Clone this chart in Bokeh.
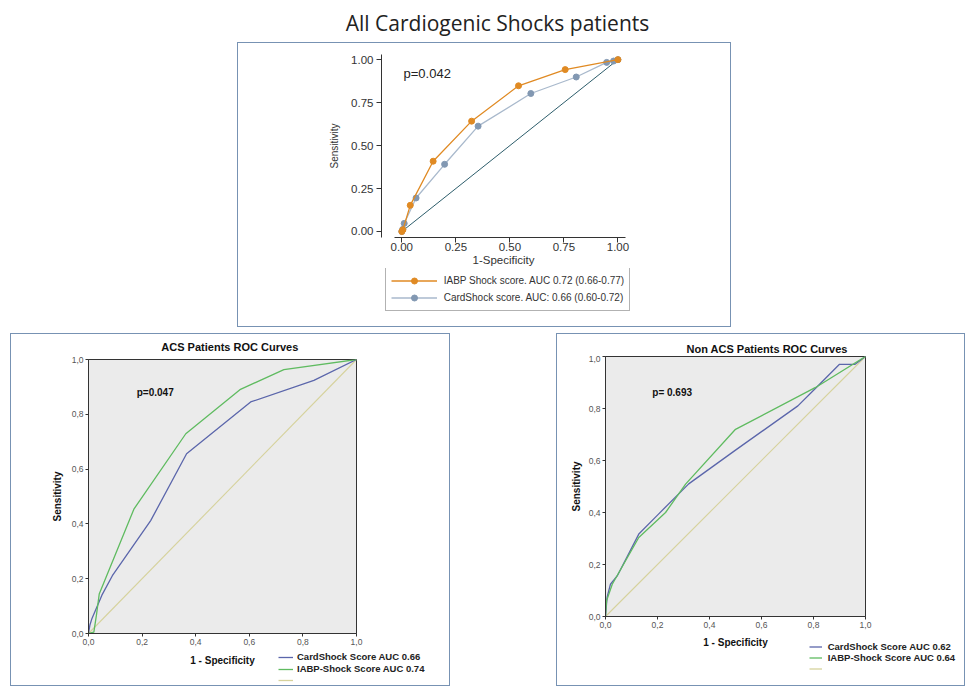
from bokeh.plotting import figure
from bokeh.models import Label, Legend, LegendItem, FixedTicker, Spacer, Range1d
from bokeh.layouts import column, row
from bokeh.embed import file_html
from bokeh.resources import INLINE

# ---------------- data ----------------
main_title = "All Cardiogenic Shocks patients"

# All cardiogenic shock patients (Stata style panel)
all_iabp_fpr = [0.0, 0.005, 0.039, 0.145, 0.323, 0.540, 0.756, 1.0]
all_iabp_tpr = [0.0, 0.010, 0.152, 0.409, 0.642, 0.848, 0.942, 1.0]
all_card_fpr = [0.0, 0.004, 0.011, 0.066, 0.198, 0.353, 0.597, 0.807, 0.948, 0.980, 1.0]
all_card_tpr = [0.0, 0.012, 0.047, 0.195, 0.391, 0.613, 0.803, 0.899, 0.984, 0.992, 1.0]
all_ticks = [0.0, 0.25, 0.5, 0.75, 1.0]
all_tick_labels = ["0.00", "0.25", "0.50", "0.75", "1.00"]
all_p = "p=0.042"
all_labels = ["IABP Shock score. AUC 0.72 (0.66-0.77)", "CardShock score. AUC: 0.66 (0.60-0.72)"]

# ACS patients
acs_card_fpr = [0.0, 0.005, 0.013, 0.050, 0.089, 0.232, 0.366, 0.605, 0.841, 1.0]
acs_card_tpr = [0.0, 0.030, 0.055, 0.140, 0.211, 0.412, 0.656, 0.845, 0.924, 1.0]
acs_iabp_fpr = [0.0, 0.020, 0.030, 0.040, 0.170, 0.363, 0.565, 0.729, 1.0]
acs_iabp_tpr = [0.0, 0.005, 0.070, 0.144, 0.455, 0.729, 0.890, 0.963, 1.0]
acs_title = "ACS Patients ROC Curves"
acs_p = "p=0.047"
acs_labels = ["CardShock Score AUC 0.66", "IABP-Shock Score AUC 0.74", " "]

# Non ACS patients
non_card_fpr = [0.0, 0.006, 0.019, 0.045, 0.128, 0.200, 0.320, 0.500, 0.740, 0.810, 0.900, 0.960, 1.0]
non_card_tpr = [0.0, 0.073, 0.124, 0.156, 0.317, 0.390, 0.510, 0.640, 0.810, 0.880, 0.970, 0.970, 1.0]
non_iabp_fpr = [0.0, 0.004, 0.026, 0.128, 0.231, 0.308, 0.500, 0.808, 1.0]
non_iabp_tpr = [0.0, 0.060, 0.124, 0.304, 0.400, 0.509, 0.720, 0.881, 1.0]
non_title = "Non ACS Patients ROC Curves"
non_p = "p= 0.693"
non_labels = ["CardShock Score AUC 0.62", "IABP-Shock Score AUC 0.64", " "]

ref_line = [0.0, 1.0]
spss_ticks = [0.0, 0.2, 0.4, 0.6, 0.8, 1.0]
spss_tick_labels = ["0,0", "0,2", "0,4", "0,6", "0,8", "1,0"]
x_label_spss = "1 - Specificity"

PANEL_BORDER = {"border": "1px solid #7792b3", "box-sizing": "content-box"}
FONT = "Liberation Sans"
C_CARD_SPSS = "#5b66ab"
C_IABP_SPSS = "#5fbb60"
C_DIAG_SPSS = "#d6d29c"
C_IABP = "#e08a23"
C_CARD_LINE = "#a9b9cc"
C_CARD_MARK = "#8298b2"


def strip(width, height):
    # frame-only figure; its ranges lie away from the data so that only legend keys show
    s = figure(width=width, height=height, x_range=Range1d(5, 6), y_range=Range1d(5, 6),
               x_axis_location=None, y_axis_location=None, toolbar_location=None,
               output_backend="svg", min_border=0, frame_align=False)
    s.grid.visible = False
    s.outline_line_color = None
    s.background_fill_color = "white"
    s.border_fill_color = "white"
    return s


# ---------------- main title ----------------
tfig = strip(965, 42)
tfig.add_layout(Label(x=497, y=20, x_units="screen", y_units="screen", text=main_title,
                      text_align="center", text_baseline="middle", text_font="Open Sans",
                      text_font_size="21px", text_color="#222222"))

# ---------------- top (all patients) ----------------
top = figure(width=492, height=225, x_range=Range1d(-0.094, 1.035), y_range=Range1d(-0.035, 1.03),
             toolbar_location=None, output_backend="svg", frame_align=False,
             min_border_left=143, min_border_right=105, min_border_top=11, min_border_bottom=31)
top.grid.visible = False
top.outline_line_color = None
top.background_fill_color = "white"
top.xaxis.bounds = (-0.035, 1.035)
for ax in (top.xaxis[0], top.yaxis[0]):
    ax.ticker = FixedTicker(ticks=all_ticks)
    ax.major_label_overrides = dict(zip(all_ticks, all_tick_labels))
    ax.major_label_text_font = FONT
    ax.major_label_text_font_size = "11.5px"
    ax.major_label_text_color = "#333333"
    ax.axis_line_color = "#333333"
    ax.major_tick_line_color = "#333333"
    ax.major_tick_in = 0
    ax.major_tick_out = 5
    ax.minor_tick_line_color = None
    ax.axis_label_text_font = FONT
    ax.axis_label_text_font_style = "normal"
    ax.axis_label_text_color = "#333333"
top.xaxis.axis_label = "1-Specificity"
top.xaxis.axis_label_text_font_size = "11.5px"
top.xaxis.axis_label_standoff = 0
top.xaxis.major_label_standoff = 0
top.yaxis.axis_label = "Sensitivity"
top.yaxis.axis_label_text_font_size = "10px"
top.yaxis.axis_label_standoff = 8
top.yaxis.major_label_standoff = 3
top.yaxis.major_label_orientation = "horizontal"

top.line(ref_line, ref_line, line_color="#2d5d6b", line_width=1)
top.line(all_card_fpr, all_card_tpr, line_color=C_CARD_LINE, line_width=1.3)
top.scatter(all_card_fpr, all_card_tpr, size=6, fill_color=C_CARD_MARK, line_color=C_CARD_MARK)
top.line(all_iabp_fpr, all_iabp_tpr, line_color=C_IABP, line_width=1.3)
top.scatter(all_iabp_fpr, all_iabp_tpr, size=6, fill_color=C_IABP, line_color=C_IABP)
top.add_layout(Label(x=0.008, y=0.92, text=all_p, text_font=FONT, text_font_size="13px",
                     text_color="#222222", text_baseline="middle"))

top_leg_strip = strip(492, 58)
k1 = top_leg_strip.line(all_iabp_fpr, all_iabp_tpr, line_color=C_IABP, line_width=1.3)
k1m = top_leg_strip.scatter(all_iabp_fpr, all_iabp_tpr, size=6, fill_color=C_IABP, line_color=C_IABP)
k2 = top_leg_strip.line(all_card_fpr, all_card_tpr, line_color=C_CARD_LINE, line_width=1.3)
k2m = top_leg_strip.scatter(all_card_fpr, all_card_tpr, size=6, fill_color=C_CARD_MARK,
                            line_color=C_CARD_MARK)
top_leg_strip.add_layout(Legend(
    items=[LegendItem(label=all_labels[0], renderers=[k1, k1m]),
           LegendItem(label=all_labels[1], renderers=[k2, k2m])],
    location=(146.7, 15), border_line_color="#666666", border_line_width=1,
    background_fill_color="white", background_fill_alpha=1.0, padding=5, spacing=2,
    glyph_width=46, glyph_height=15, label_height=15, label_standoff=7, margin=0,
    label_text_font=FONT, label_text_font_size="10px", label_text_color="#333333"))

top_panel = column(top, top_leg_strip, styles=PANEL_BORDER)


# ---------------- SPSS style panels ----------------
def spss_panel(inner_w, title_h, main_h, bottom_h, lb, rb, tb, bb, ylab_standoff,
               card_x, card_y, iabp_x, iabp_y, title, title_xy, pval, p_xy,
               xlab_xy, labels, leg_loc, glyph_w, standoff, row_h, row_gap):
    ts = strip(inner_w, title_h)
    ts.add_layout(Label(x=title_xy[0], y=title_xy[1], x_units="screen", y_units="screen", text=title,
                        text_align="center", text_baseline="middle", text_font=FONT,
                        text_font_style="bold", text_font_size="11px", text_color="#111111"))

    p = figure(width=inner_w, height=main_h, x_range=Range1d(0, 1), y_range=Range1d(0, 1),
               toolbar_location=None, output_backend="svg", frame_align=False,
               min_border_left=lb, min_border_right=rb, min_border_top=tb, min_border_bottom=bb)
    p.grid.visible = False
    p.background_fill_color = "#ebebeb"
    p.border_fill_color = "white"
    p.outline_line_color = "#333333"
    for ax in (p.xaxis[0], p.yaxis[0]):
        ax.ticker = FixedTicker(ticks=spss_ticks)
        ax.major_label_overrides = dict(zip(spss_ticks, spss_tick_labels))
        ax.major_label_text_font = FONT
        ax.major_label_text_font_size = "8.5px"
        ax.major_label_text_color = "#555555"
        ax.axis_line_color = "#333333"
        ax.major_tick_line_color = "#333333"
        ax.major_tick_in = 0
        ax.major_tick_out = 3
        ax.major_label_standoff = 2
        ax.minor_tick_line_color = None
    p.yaxis.axis_label = "Sensitivity"
    p.yaxis.axis_label_text_font = FONT
    p.yaxis.axis_label_text_font_style = "bold"
    p.yaxis.axis_label_text_font_size = "10px"
    p.yaxis.axis_label_text_color = "#111111"
    p.yaxis.axis_label_standoff = ylab_standoff
    p.yaxis.major_label_orientation = "horizontal"

    p.line(ref_line, ref_line, line_color=C_DIAG_SPSS, line_width=1.1)
    p.line(card_x, card_y, line_color=C_CARD_SPSS, line_width=1.3)
    p.line(iabp_x, iabp_y, line_color=C_IABP_SPSS, line_width=1.3)
    p.add_layout(Label(x=p_xy[0], y=p_xy[1], text=pval, text_font=FONT, text_font_style="bold",
                       text_font_size="10px", text_color="#111111", text_baseline="middle"))

    bs = strip(inner_w, bottom_h)
    bs.add_layout(Label(x=xlab_xy[0], y=xlab_xy[1], x_units="screen", y_units="screen",
                        text=x_label_spss, text_align="center", text_baseline="middle",
                        text_font=FONT, text_font_style="bold", text_font_size="10px",
                        text_color="#111111"))
    kc = bs.line(card_x, card_y, line_color=C_CARD_SPSS, line_width=1.3)
    ki = bs.line(iabp_x, iabp_y, line_color=C_IABP_SPSS, line_width=1.3)
    kd = bs.line(ref_line, ref_line, line_color=C_DIAG_SPSS, line_width=1.3)
    bs.add_layout(Legend(
        items=[LegendItem(label=labels[0], renderers=[kc]),
               LegendItem(label=labels[1], renderers=[ki]),
               LegendItem(label=labels[2], renderers=[kd])],
        location=leg_loc, border_line_color=None, background_fill_alpha=0,
        padding=0, spacing=row_gap, margin=0, glyph_width=glyph_w, glyph_height=row_h,
        label_height=row_h, label_standoff=standoff, label_text_font=FONT,
        label_text_font_style="bold", label_text_font_size="9.5px",
        label_text_color="#222222"))
    return column(ts, p, bs, styles=PANEL_BORDER)


left_panel = spss_panel(438, 20, 296, 35, 77, 93, 5, 17, 6,
                        acs_card_fpr, acs_card_tpr, acs_iabp_fpr, acs_iabp_tpr,
                        acs_title, (218.3, 8), acs_p, (0.18, 0.88), (211, 25),
                        acs_labels, (267, 0), 15, 4, 10, 1)

right_panel = spss_panel(407, 21, 277, 53, 48, 99, 1, 16, 4,
                         non_card_fpr, non_card_tpr, non_iabp_fpr, non_iabp_tpr,
                         non_title, (209.7, 6.7), non_p, (0.18, 0.862), (178, 43.3),
                         non_labels, (251.7, 11.5), 13, 6, 11, 0)

layout = column(
    tfig,
    row(Spacer(width=237, height=285), top_panel),
    Spacer(width=965, height=6),
    row(Spacer(width=10, height=353), left_panel, Spacer(width=106, height=353), right_panel),
)

open("out.html", "w").write(file_html(layout, INLINE))
